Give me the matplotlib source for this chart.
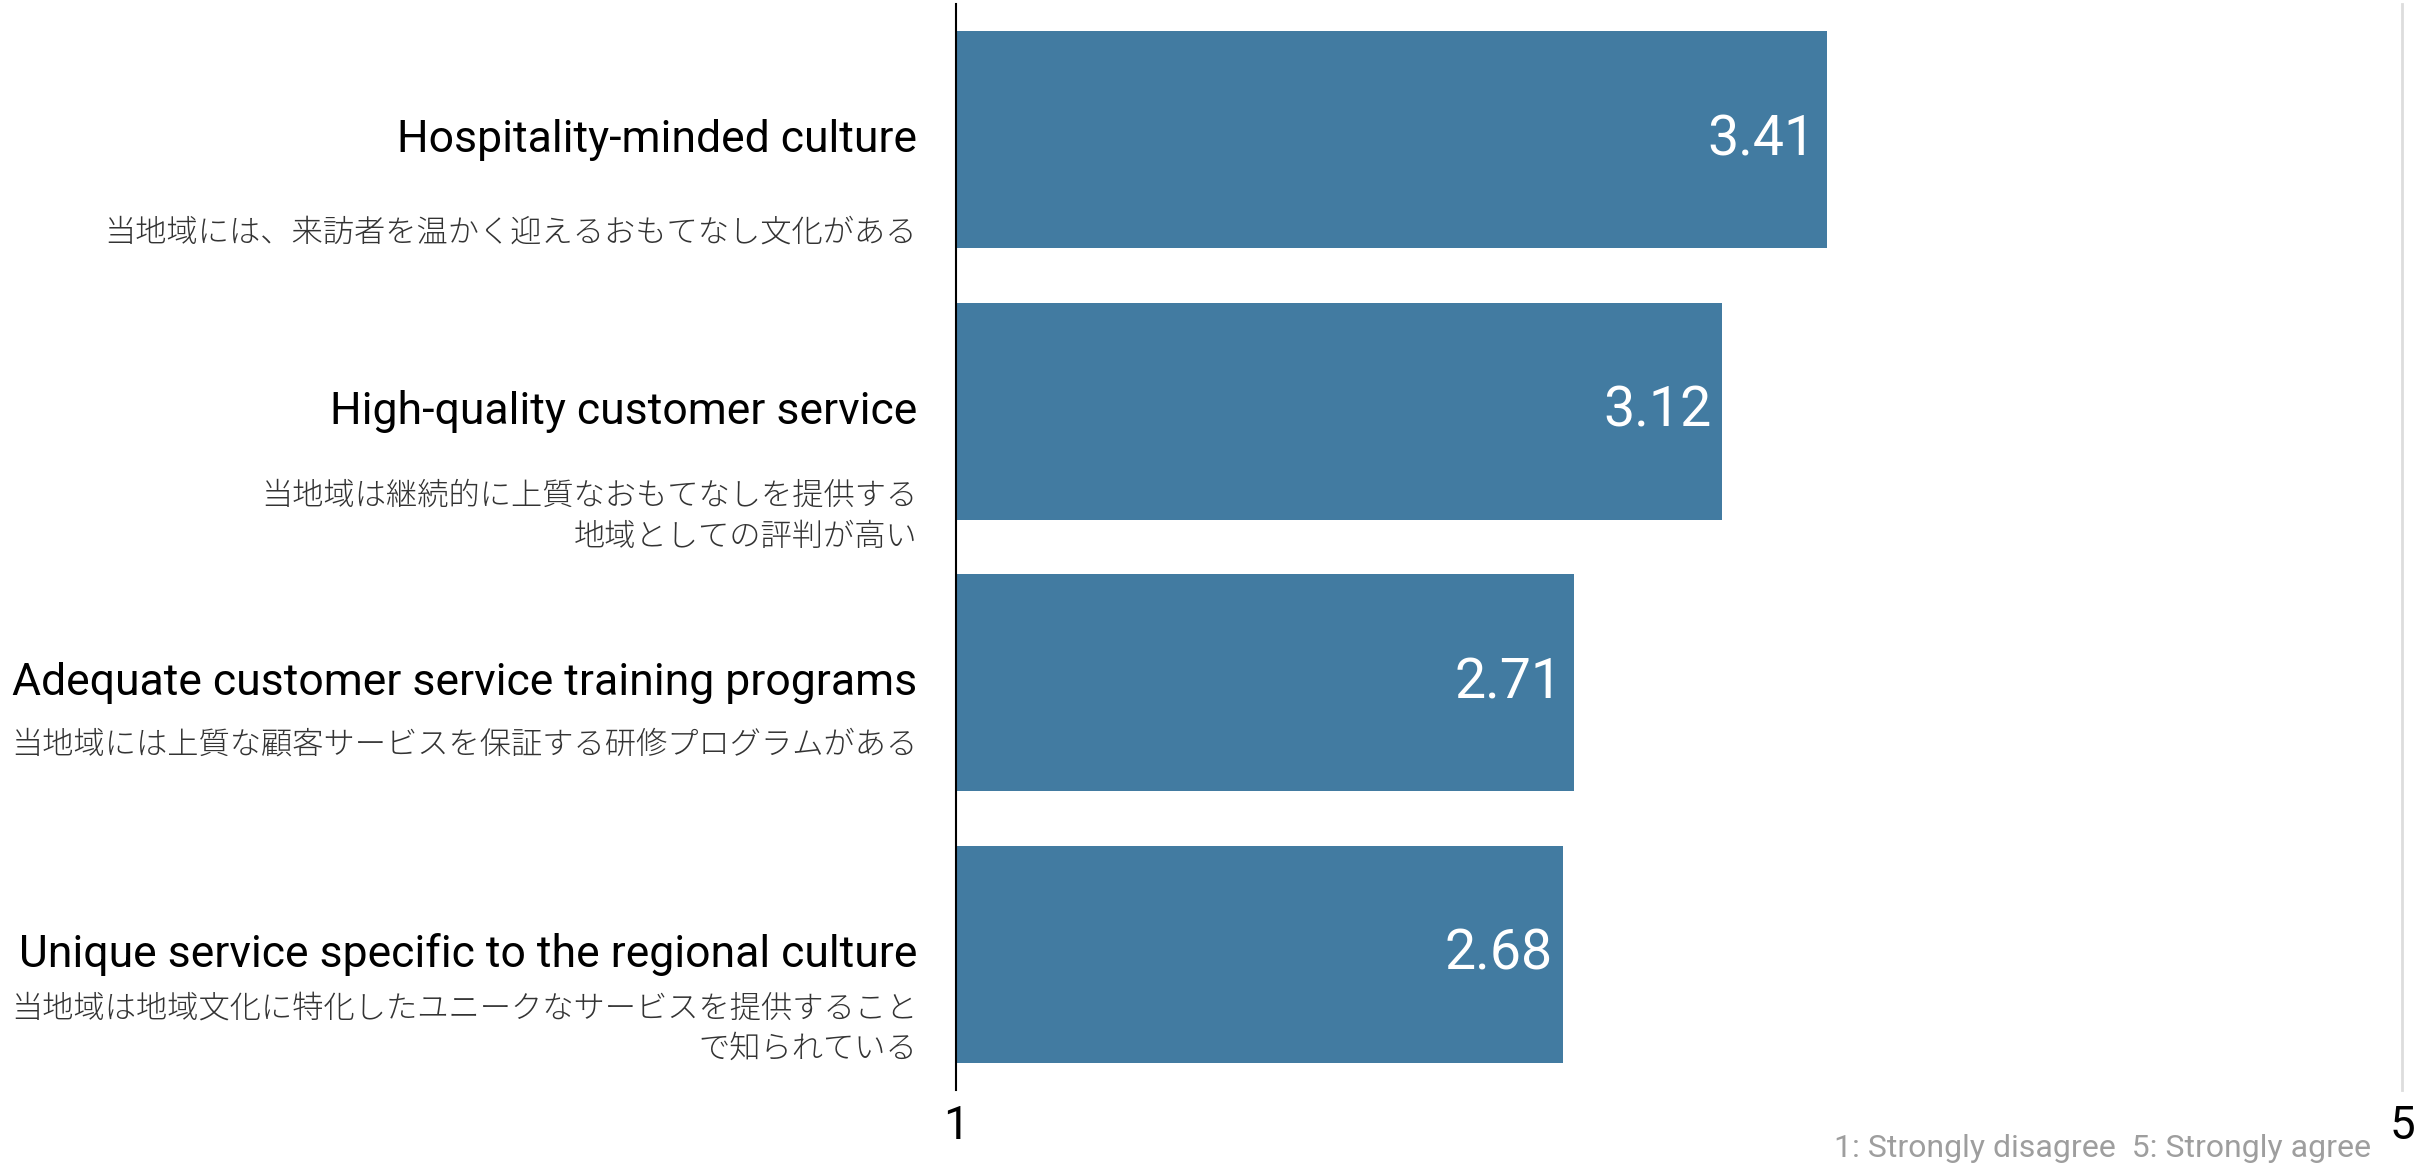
import matplotlib.pyplot as plt

# ---- data ----
titles = [
    "Hospitality-minded culture",
    "High-quality customer service",
    "Adequate customer service training programs",
    "Unique service specific to the regional culture",
]
subtitles = [
    "当地域には、来訪者を温かく迎えるおもてなし文化がある",
    "当地域は継続的に上質なおもてなしを提供する\n地域としての評判が高い",
    "当地域には上質な顧客サービスを保証する研修プログラムがある",
    "当地域は地域文化に特化したユニークなサービスを提供すること\nで知られている",
]
scores = [3.41, 3.12, 2.71, 2.68]
x_ticks = [1, 5]
note = "1: Strongly disagree  5: Strongly agree"

# layout: vertical offset (points) of each Japanese subtitle below its title
sub_offsets = [-67, -76, -45, -54]

BAR = "#427ba1"
FONT = ["Roboto", "Noto Sans CJK JP", "DejaVu Sans"]
plt.rcParams["font.family"] = FONT

fig = plt.figure(figsize=(24.3, 11.65), dpi=100)
ax = fig.add_axes([956 / 2430, 1 - 1090 / 1165, (2402 - 956) / 2430, (1090 - 4) / 1165])

ypos = list(range(len(scores)))
base = x_ticks[0]
ax.barh(ypos, [s - base for s in scores], left=base, height=0.8, color=BAR)

# value labels inside the bar ends
for y, s in zip(ypos, scores):
    ax.annotate(f"{s:.2f}", (s, y), xytext=(-8, 0), textcoords="offset points",
                ha="right", va="center", color="white", fontsize=40)

# category labels: english title + japanese subtitle
for y, t, sub, off in zip(ypos, titles, subtitles, sub_offsets):
    ax.annotate(t, (base, y), xytext=(-28, 0), textcoords="offset points",
                ha="right", va="center", fontsize=32, color="black",
                annotation_clip=False)
    ax.annotate(sub, (base, y), xytext=(-28, off), textcoords="offset points",
                ha="right", va="center", fontsize=22.5, color="#333333",
                fontweight="light", linespacing=1.5, annotation_clip=False)

ax.set_xlim(x_ticks[0], x_ticks[-1])
ax.set_ylim(len(scores) - 0.5, -0.5)
ax.set_xticks(x_ticks)
ax.set_xticklabels([str(v) for v in x_ticks])
ax.set_yticks([])
ax.tick_params(axis="x", length=0, labelsize=33, pad=10, labelcolor="black")

for side in ["top", "bottom"]:
    ax.spines[side].set_visible(False)
ax.spines["left"].set_color("black")
ax.spines["left"].set_linewidth(1.5)
ax.spines["right"].set_color("#dddddd")
ax.spines["right"].set_linewidth(2)

fig.text(2371 / 2430, 1 - 1157 / 1165, note, ha="right", va="baseline",
         fontsize=23, color="#9e9e9e")

fig.savefig("out.png", dpi=100)
